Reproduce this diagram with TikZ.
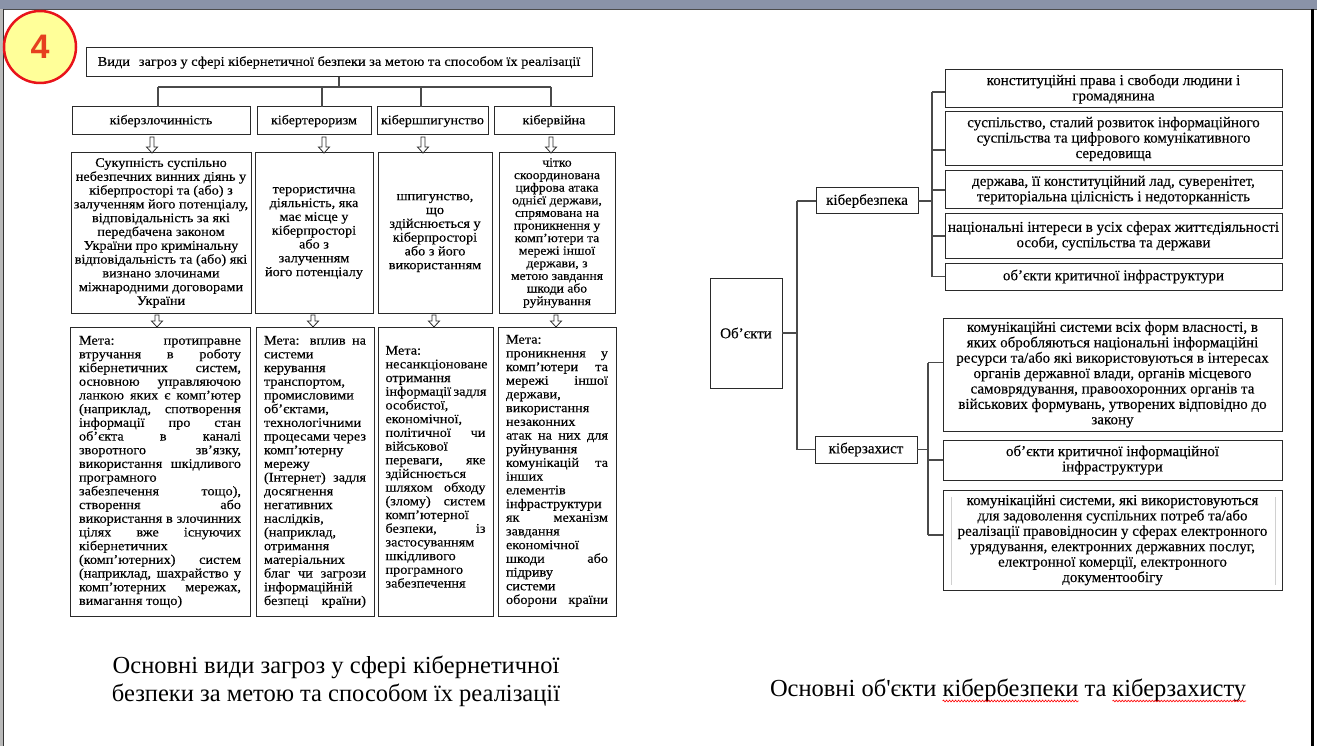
\documentclass[tikz,border=0pt]{standalone}
\usepackage{fontspec}
\setmainfont{Liberation Serif}
\newfontfamily\capf{Liberation Serif}
\newfontfamily\lfam{Liberation Serif}[FakeStretch=1.08, FakeBold=0.25]
\newfontfamily\rfam{Liberation Serif}[FakeBold=0.2]
\newfontfamily\numf{Liberation Sans}
\usetikzlibrary{calc,decorations.pathmorphing}
\definecolor{band}{HTML}{8A93A8}
\definecolor{bdr}{HTML}{2A2A2A}
\definecolor{ln}{HTML}{4A4A4A}
\definecolor{badgefill}{HTML}{FFFF99}
\definecolor{badgered}{HTML}{E8141B}
\definecolor{numred}{HTML}{E6401F}
\definecolor{faint}{HTML}{D0D0D0}
\newcommand\pb[4]{\parbox[c][#2pt][#3]{#1pt}{#4}}
\newcommand\jl[1]{\makebox[\linewidth][s]{#1}\par}
\newcommand\lf[1]{#1\par}
\newcommand\ftitle{\lfam\fontsize{13.3}{15}\selectfont}
\newcommand\flev{\lfam\fontsize{13}{15}\selectfont}
\newcommand\fdesc{\lfam\fontsize{13.2}{13.8}\selectfont}
\newcommand\fdescb{\lfam\fontsize{12.6}{12.6}\selectfont}
\newcommand\fmeta{\lfam\fontsize{13.2}{13.7}\selectfont}
\newcommand\fright{\rfam\fontsize{15}{15.4}\selectfont}
\newcommand\fcap{\capf\fontsize{24.5}{28}\selectfont}
\tikzset{
 bx/.style={draw=bdr, line width=1pt, inner xsep=#1, inner ysep=0pt, outer sep=0pt, anchor=north west, text=black},
 bx/.default=0pt,
 conn/.style={draw=ln, line width=1.1pt},
 hol/.style={draw=bdr, line width=0.8pt, fill=white, line join=miter},
 capword/.style={font=\fcap, text=black, inner sep=0pt, outer sep=0pt, anchor=base west},
 wavy/.style={draw=red, line width=0.6pt, decorate, decoration={snake, amplitude=0.9pt, segment length=3pt}},
}
\newcommand\harrow[3]{%
 \path (#1,0) coordinate (hax);
 \path (hax |- #2.south) coordinate (ha1) (hax |- #3.north) coordinate (ha2);
 \draw[hol] ($(ha1)+(-2,2)$) -- ($(ha2)+(-2,-6)$) -- ($(ha2)+(-5.5,-6)$) -- (ha2) -- ($(ha2)+(5.5,-6)$) -- ($(ha2)+(2,-6)$) -- ($(ha1)+(2,2)$) -- cycle;}
\begin{document}
\begin{tikzpicture}[x=1pt,y=-1pt]
\useasboundingbox (0,0) rectangle (1317,746);
\fill[white] (0,0) rectangle (1317,746);
% frame
\fill[band] (0,0) rectangle (1317,9);
\draw[line width=1pt, gray!60!black] (0,9.5) -- (1317,9.5);
\fill[gray!55] (0,9) rectangle (2.5,746);
\draw[line width=0.8pt, gray!40!black] (3,9) -- (3,746);
\draw[line width=2.2pt, black] (1312.5,9) -- (1312.5,746);
% badge
\node[circle, draw=badgered, line width=2.5pt, fill=badgefill, minimum size=72pt, inner sep=0pt] (badge) at (40,47) {\numf\bfseries\fontsize{34}{34}\selectfont\color{numred}4};

% ===== left diagram =====
\node[bx] (title) at (86,48) {\pb{506}{29}{c}{\centering\ftitle Види\hspace{0.4em} загроз у сфері кібернетичної безпеки за метою та способом їх реалізації}};
\node[bx] (l1) at (72,107) {\pb{178}{28}{c}{\centering\flev кіберзлочинність}};
\node[bx] (l2) at (257,107) {\pb{114}{28}{c}{\centering\flev кібертероризм}};
\node[bx] (l3) at (377,107) {\pb{111}{28}{c}{\centering\flev кібершпигунство}};
\node[bx] (l4) at (494,107) {\pb{120}{28}{c}{\centering\flev кібервійна}};

\coordinate (bus) at (339,87);
\coordinate (j1) at (158,87);
\coordinate (j2) at (322,87);
\coordinate (j3) at (421,87);
\coordinate (j4) at (551,87);
\draw[conn] (title.south) -- (bus);
\draw[conn] (j1) -- (j4);
\draw[conn] (j1) -- (j1 |- l1.north);
\draw[conn] (j2) -- (j2 |- l2.north);
\draw[conn] (j3) -- (j3 |- l3.north);
\draw[conn] (j4) -- (j4 |- l4.north);

\node[bx] (d1) at (71,153) {\pb{180}{160}{c}{\centering\fdesc Сукупність суспільно\\небезпечних винних діянь у\\кіберпросторі та (або) з\\залученням його потенціалу,\\відповідальність за які\\передбачена законом\\України про кримінальну\\відповідальність та (або) які\\визнано злочинами\\міжнародними договорами\\України}};
\node[bx] (d2) at (255,153) {\pb{118}{160}{c}{\centering\fdesc терористична\\діяльність, яка\\має місце у\\кіберпросторі\\або з\\залученням\\його потенціалу}};
\node[bx] (d3) at (378,153) {\pb{114}{160}{c}{\centering\fdesc шпигунство,\\що\\здійснюється у\\кіберпросторі\\або з його\\використанням}};
\node[bx] (d4) at (499,153) {\pb{116}{160}{c}{\centering\fdescb чітко\\скоординована\\цифрова атака\\однієї держави,\\спрямована на\\проникнення у\\комп’ютери та\\мережі іншої\\держави, з\\метою завдання\\шкоди або\\руйнування}};

\harrow{152}{l1}{d1}
\harrow{324}{l2}{d2}
\harrow{423}{l3}{d3}
\harrow{551}{l4}{d4}

\node[bx=9pt] (m1) at (70,327) {\pb{162}{289}{t}{\fmeta\vspace*{9pt}%
\jl{Мета: протиправне}
\jl{втручання в роботу}
\jl{кібернетичних систем,}
\jl{основною управляючою}
\jl{ланкою яких є комп’ютер}
\jl{(наприклад, спотворення}
\jl{інформації про стан}
\jl{об’єкта в каналі}
\jl{зворотного зв’язку,}
\jl{використання шкідливого}
\lf{програмного}
\jl{забезпечення тощо),}
\jl{створення або}
\jl{використання в злочинних}
\jl{цілях вже існуючих}
\lf{кібернетичних}
\jl{(комп’ютерних) систем}
\jl{(наприклад, шахрайство у}
\jl{комп’ютерних мережах,}
\lf{вимагання тощо)}}};
\node[bx=8pt] (m2) at (256,327) {\pb{102}{289}{t}{\fmeta\vspace*{9pt}%
\jl{Мета: вплив на}
\lf{системи}
\lf{керування}
\lf{транспортом,}
\lf{промисловими}
\lf{об’єктами,}
\lf{технологічними}
\jl{процесами через}
\lf{комп’ютерну}
\lf{мережу}
\jl{(Інтернет) задля}
\lf{досягнення}
\lf{негативних}
\lf{наслідків,}
\lf{(наприклад,}
\lf{отримання}
\lf{матеріальних}
\jl{благ чи загрози}
\lf{інформаційній}
\jl{безпеці країни)}}};
\node[bx=7.5pt] (m3) at (378,327) {\pb{100}{289}{t}{\fmeta\vspace*{19pt}%
\lf{Мета:}
\lf{несанкціоноване}
\lf{отримання}
\jl{інформації задля}
\lf{особистої,}
\lf{економічної,}
\jl{політичної чи}
\lf{військової}
\jl{переваги, яке}
\lf{здійснюється}
\jl{шляхом обходу}
\jl{(злому) систем}
\lf{комп’ютерної}
\jl{безпеки, із}
\lf{застосуванням}
\lf{шкідливого}
\lf{програмного}
\lf{забезпечення}}};
\node[bx=8pt] (m4) at (498,327) {\pb{102}{289}{t}{\fmeta\vspace*{8pt}%
\lf{Мета:}
\jl{проникнення у}
\jl{комп’ютери та}
\jl{мережі іншої}
\lf{держави,}
\lf{використання}
\lf{незаконних}
\jl{атак на них для}
\lf{руйнування}
\jl{комунікацій та}
\lf{інших}
\lf{елементів}
\lf{інфраструктури}
\jl{як механізм}
\lf{завдання}
\lf{економічної}
\jl{шкоди або}
\lf{підриву}
\lf{системи}
\jl{оборони країни}}};

\harrow{157}{d1}{m1}
\harrow{313}{d2}{m2}
\harrow{434}{d3}{m3}
\harrow{556}{d4}{m4}

% ===== right diagram =====
\node[bx] (obj) at (710,278) {\pb{72}{110}{c}{\centering\fright Об’єкти}};
\node[bx] (kb) at (816,188) {\pb{102}{26}{c}{\centering\fright кібербезпека}};
\node[bx] (kz) at (815,436) {\pb{102}{27}{c}{\centering\fright кіберзахист}};

\node[bx] (r1) at (945,70) {\pb{337}{38}{c}{\centering\fright конституційні права і свободи людини і\\громадянина}};
\node[bx] (r2) at (945,112) {\pb{337}{54}{c}{\centering\fright суспільство, сталий розвиток інформаційного\\суспільства та цифрового комунікативного\\середовища}};
\node[bx] (r3) at (945,171) {\pb{337}{38}{c}{\centering\fright держава, її конституційний лад, суверенітет,\\територіальна цілісність і недоторканність}};
\node[bx] (r4) at (945,214) {\pb{337}{44}{c}{\centering\fright національні інтереси в усіх сферах життєдіяльності\\особи, суспільства та держави}};
\node[bx] (r5) at (945,263) {\pb{337}{27}{c}{\centering\fright об’єкти критичної інфраструктури}};

\node[bx] (r6) at (943,318) {\pb{339}{113}{c}{\centering\fright комунікаційні системи всіх форм власності, в\\яких обробляються національні інформаційні\\ресурси та/або які використовуються в інтересах\\органів державної влади, органів місцевого\\самоврядування, правоохоронних органів та\\військових формувань, утворених відповідно до\\закону}};
\node[bx] (r7) at (943,440) {\pb{339}{40}{c}{\centering\fright об’єкти критичної інформаційної\\інфраструктури}};
\node[bx] (r8) at (943,490) {\pb{339}{100}{c}{\centering\fright комунікаційні системи, які використовуються\\для задоволення суспільних потреб та/або\\реалізації правовідносин у сферах електронного\\урядування, електронних державних послуг,\\електронної комерції, електронного\\документообігу}};
\draw[faint, line width=1pt] (951,497) -- (951,585);
\draw[faint, line width=1pt] (1275,497) -- (1275,585);

\coordinate (tr) at (797,0);
\draw[conn] (kb.west -| tr) -- (kz.west -| tr);
\draw[conn] (kb.west -| tr) -- (kb.west);
\draw[conn] (kz.west -| tr) -- (kz.west);
\draw[conn] (obj.east) -- (obj.east -| tr);

\coordinate (b1) at (932,0);
\coordinate (s1) at ($(r1.west)+(0,3)$);
\coordinate (s2) at ($(r2.west)+(0,11)$);
\draw[conn] (kb.east) -- (kb.east -| b1);
\draw[conn] (b1 |- s1) -- (b1 |- r5.west);
\draw[conn] (b1 |- s1) -- (s1);
\draw[conn] (b1 |- s2) -- (s2);
\draw[conn] (b1 |- r3.west) -- (r3.west);
\draw[conn] (b1 |- r4.west) -- (r4.west);
\draw[conn] (b1 |- r5.west) -- (r5.west);

\coordinate (b2) at (928,0);
\coordinate (s6) at ($(r6.west)+(0,-12)$);
\coordinate (s8) at ($(r8.west)+(0,-5)$);
\draw[conn] (kz.east) -- (kz.east -| b2);
\draw[conn] (b2 |- s6) -- (b2 |- s8);
\draw[conn] (b2 |- s6) -- (s6);
\draw[conn] (b2 |- r7.west) -- (r7.west);
\draw[conn] (b2 |- s8) -- (s8);

% captions
\node[font=\fcap, align=center, text=black] (cap1) at (336,681) {Основні види загроз у сфері кібернетичної\\безпеки за метою та способом їх реалізації};
\node[capword] (ca) at (770,696) {Основні об'єкти};
\node[capword] (cb) at ($(ca.base east)+(6,0)$) {кібербезпеки};
\node[capword] (cc) at ($(cb.base east)+(6,0)$) {та};
\node[capword] (cd) at ($(cc.base east)+(6,0)$) {кіберзахисту};
\draw[wavy] ($(cb.base west)+(0,5)$) -- ($(cb.base east)+(0,5)$);
\draw[wavy] ($(cd.base west)+(0,5)$) -- ($(cd.base east)+(0,5)$);
\end{tikzpicture}
\end{document}
